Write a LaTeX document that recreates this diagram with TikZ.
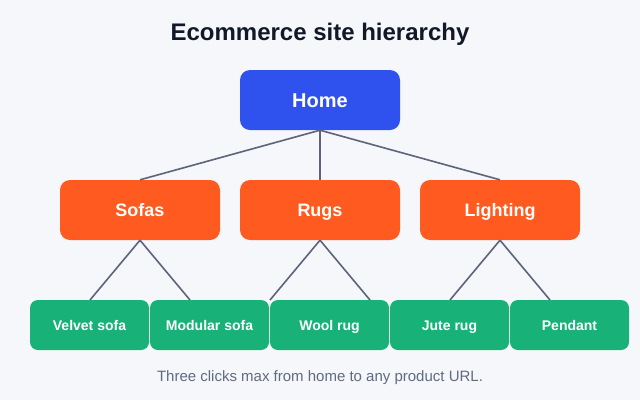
\documentclass[tikz,border=0pt]{standalone}
\usepackage{fontspec}
\setmainfont{Liberation Sans}
\definecolor{bgc}{HTML}{F6F7FB}
\definecolor{homec}{HTML}{2F52EE}
\definecolor{catc}{HTML}{FF5A1F}
\definecolor{leafc}{HTML}{18B178}
\definecolor{linec}{HTML}{5B6478}
\definecolor{titlec}{HTML}{111827}
\definecolor{capc}{HTML}{5F6B80}
\begin{document}
\begin{tikzpicture}[x=1pt,y=-1pt,
  box/.style={rectangle, rounded corners=10pt, inner sep=0pt, text=white, font=\bfseries, text depth=0pt},
  homebox/.style={box, fill=homec, minimum width=160pt, minimum height=60pt, text height=14.4pt, font=\fontsize{20}{24}\selectfont\bfseries},
  catbox/.style={box, fill=catc, minimum width=160pt, minimum height=60pt, text height=13pt, font=\fontsize{18}{22}\selectfont\bfseries},
  leafbox/.style={box, fill=leafc, rounded corners=8pt, minimum width=119pt, minimum height=50pt, text height=10.1pt, font=\fontsize{14}{17}\selectfont\bfseries},
  conn/.style={draw=linec, line width=1.6pt}]
\fill[bgc] (0,0) rectangle (640,400);
\useasboundingbox (0,0) rectangle (640,400);
\node[text=titlec, font=\fontsize{24}{28}\selectfont\bfseries, text height=17.3pt, text depth=0pt, inner sep=0pt] (title) at (320,32) {Ecommerce site hierarchy};
\node[homebox] (home) at (320,100) {Home};
\node[catbox] (sofas) at (140,210) {Sofas};
\node[catbox] (rugs) at (320,210) {Rugs};
\node[catbox] (lighting) at (500,210) {Lighting};
\node[leafbox] (velvet) at (89.5,325) {Velvet sofa};
\node[leafbox] (modular) at (209.5,325) {Modular sofa};
\node[leafbox] (wool) at (329.5,325) {Wool rug};
\node[leafbox] (jute) at (449.5,325) {Jute rug};
\node[leafbox] (pendant) at (569.5,325) {Pendant};
\coordinate (cv) at (90,300);
\coordinate (cm) at (190,300);
\coordinate (cw1) at (270,300);
\coordinate (cw2) at (370,300);
\coordinate (cj) at (450,300);
\coordinate (cp) at (550,300);
\draw[conn] (home.south) -- (sofas.north);
\draw[conn] (home.south) -- (rugs.north);
\draw[conn] (home.south) -- (lighting.north);
\draw[conn] (sofas.south) -- (cv);
\draw[conn] (sofas.south) -- (cm);
\draw[conn] (rugs.south) -- (cw1);
\draw[conn] (rugs.south) -- (cw2);
\draw[conn] (lighting.south) -- (cj);
\draw[conn] (lighting.south) -- (cp);
\node[text=capc, font=\fontsize{15}{18}\selectfont, text height=10.8pt, text depth=0pt, inner sep=0pt] (caption) at (320,376) {Three clicks max from home to any product URL.};
\end{tikzpicture}
\end{document}
